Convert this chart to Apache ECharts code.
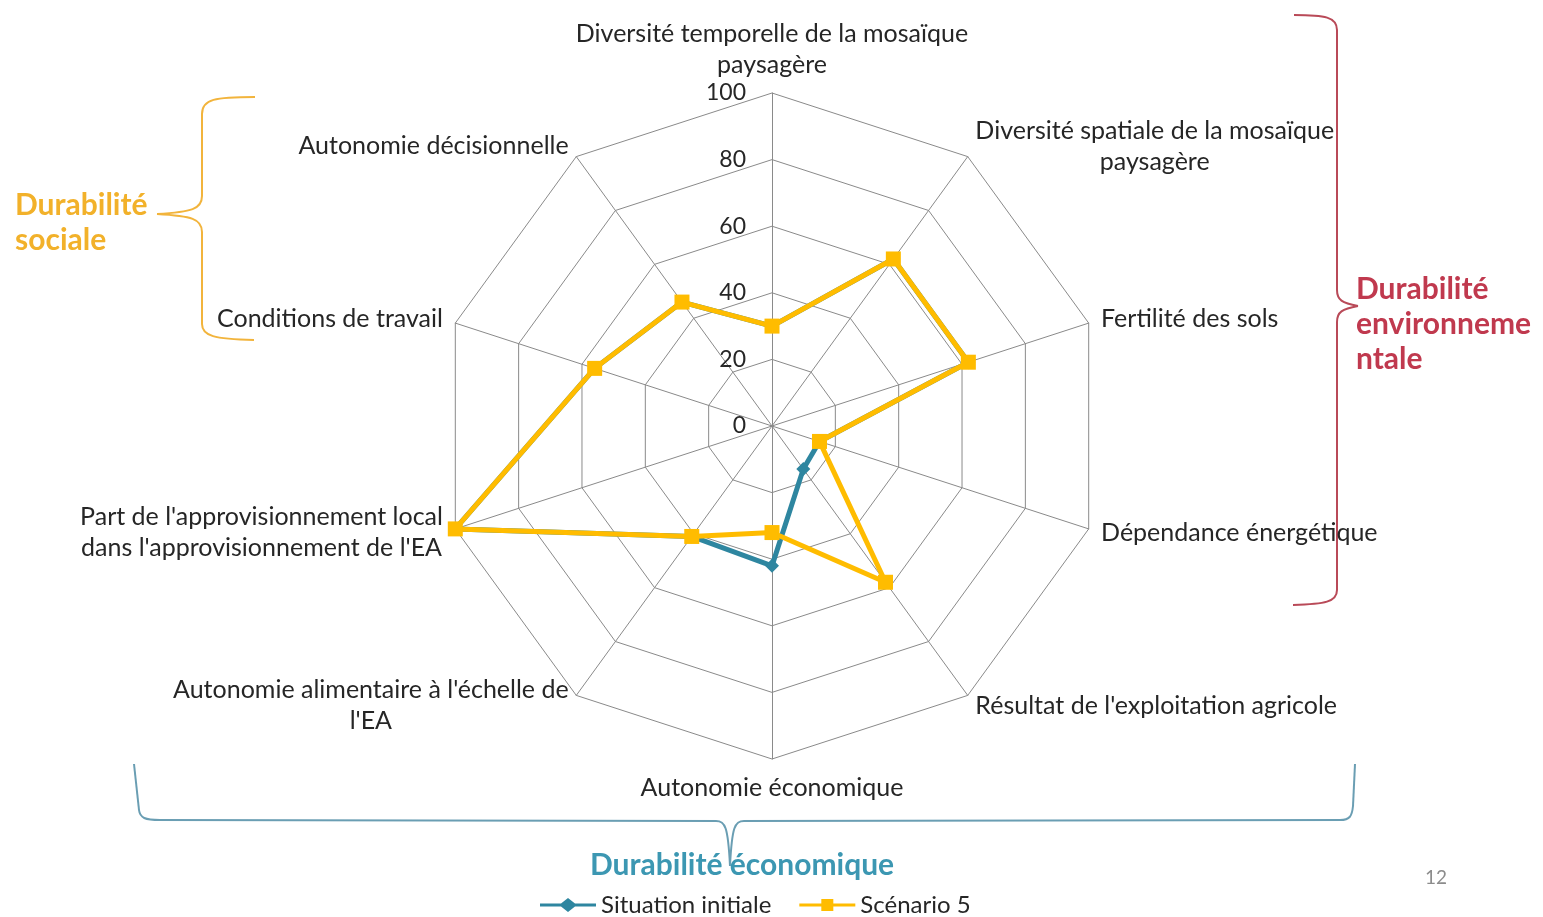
<!DOCTYPE html>
<html>
<head>
<meta charset="utf-8">
<script src="https://cdn.jsdelivr.net/npm/echarts@6/dist/echarts.min.js"></script>
<style>
html,body{margin:0;padding:0;background:#fff;}
#main{width:1543px;height:917px;}
</style>
</head>
<body>
<div id="main"></div>
<script>
// Indicators, listed clockwise starting from the top axis
const categories = [
  'Diversité temporelle de la mosaïque\npaysagère',
  'Diversité spatiale de la mosaïque\npaysagère',
  'Fertilité des sols',
  'Dépendance énergétique',
  "Résultat de l'exploitation agricole",
  'Autonomie économique',
  "Autonomie alimentaire à l'échelle de\nl'EA",
  "Part de l'approvisionnement local\ndans l'approvisionnement de l'EA",
  'Conditions de travail',
  'Autonomie décisionnelle'
];
const seriesNames = ['Situation initiale', 'Scénario 5'];
const situationInitiale = [30, 62, 62, 15, 16, 42, 41, 100, 56, 46];
const scenario5 = [30, 62, 62, 15, 58, 32, 41, 100, 56, 46];
const axisMin = 0;
const axisMax = 100;
const axisSplits = 5;

const FONT = 'Lato';
const TEXT = '#262626';
const TEAL = '#2E86A0';
const GOLD = '#FFBC00';

// ECharts places indicators counter-clockwise: reorder to keep the clockwise layout
function toCcw(arr) { return [arr[0]].concat(arr.slice(1).reverse()); }

const indicator = toCcw(categories).map(function (n, i) {
  const ind = { name: n, min: axisMin, max: axisMax };
  if (i === 0) ind.axisLabel = { show: true };
  return ind;
});

// decorative brace built from line / bezier segments
function brace(d, color) {
  const t = d.trim().split(/\s+/);
  const children = [];
  let i = 0, cx = 0, cy = 0;
  while (i < t.length) {
    const c = t[i++];
    if (c === 'M') { cx = +t[i++]; cy = +t[i++]; }
    else if (c === 'L') {
      const x = +t[i++], y = +t[i++];
      children.push({ type: 'line', shape: { x1: cx, y1: cy, x2: x, y2: y }, style: { stroke: color, lineWidth: 2 } });
      cx = x; cy = y;
    } else if (c === 'C') {
      const a = +t[i++], b = +t[i++], e = +t[i++], f = +t[i++], x = +t[i++], y = +t[i++];
      children.push({ type: 'bezierCurve', shape: { x1: cx, y1: cy, cpx1: a, cpy1: b, cpx2: e, cpy2: f, x2: x, y2: y }, style: { stroke: color, lineWidth: 2, fill: null } });
      cx = x; cy = y;
    }
  }
  return { type: 'group', children: children };
}

// legend icons: line with a marker in the middle
const ICON_DIAMOND = 'path://M0 5.5 H21 L28 0 L35 5.5 H56 V8.5 H35 L28 14 L21 8.5 H0 Z';
const ICON_SQUARE = 'path://M0 5.5 H22 V1 H34 V5.5 H56 V8.5 H34 V13 H22 V8.5 H0 Z';

const chart = echarts.init(document.getElementById('main'), null, { renderer: 'canvas' });

const option = {
  backgroundColor: '#ffffff',
  animation: false,
  textStyle: { fontFamily: FONT },
  legend: {
    data: [
      { name: seriesNames[0], icon: ICON_DIAMOND, itemStyle: { color: TEAL } },
      { name: seriesNames[1], icon: ICON_SQUARE, itemStyle: { color: GOLD } }
    ],
    bottom: -5,
    left: 535,
    itemWidth: 56,
    itemHeight: 14,
    itemGap: 28,
    textStyle: { fontFamily: FONT, fontSize: 24, color: TEXT }
  },
  radar: {
    center: [772, 426],
    radius: 333,
    startAngle: 90,
    shape: 'polygon',
    splitNumber: axisSplits,
    indicator: indicator,
    axisName: {
      color: TEXT,
      fontFamily: FONT,
      fontSize: 25,
      formatter: function (name) {
        return name.split('\n').map(function (l) { return '{c|' + l + '}'; }).join('\n');
      },
      rich: {
        c: { align: 'center', fontFamily: FONT, fontSize: 25, lineHeight: 31, color: TEXT }
      }
    },
    nameGap: 13,
    axisLine: { lineStyle: { color: '#8a8a8a', width: 1 } },
    splitLine: { lineStyle: { color: '#8a8a8a', width: 1 } },
    splitArea: { show: false },
    axisTick: { show: false },
    axisLabel: {
      show: false,
      color: TEXT,
      fontFamily: FONT,
      fontSize: 23,
      margin: 26
    }
  },
  series: [{
    type: 'radar',
    data: [
      {
        name: seriesNames[0],
        value: toCcw(situationInitiale),
        symbol: 'diamond',
        symbolSize: 14,
        lineStyle: { color: TEAL, width: 5 },
        itemStyle: { color: TEAL }
      },
      {
        name: seriesNames[1],
        value: toCcw(scenario5),
        symbol: 'rect',
        symbolSize: 15,
        lineStyle: { color: GOLD, width: 5 },
        itemStyle: { color: GOLD }
      }
    ]
  }],
  graphic: [
    brace('M 255 97 C 215 97 202 99 202 114 L 202 196 C 202 209 192 212 157 214 C 192 216 202 219 202 232 L 202 324 C 202 336 214 339 254 340', '#F2B43C'),
    brace('M 1294 15 C 1325 15 1337 17 1337 30 L 1337 290 C 1337 300 1342 303 1358 306 C 1342 309 1337 312 1337 322 L 1337 590 C 1337 602 1325 604 1293 605', '#B94A58'),
    brace('M 134 764 L 139 810 C 140 818 145 820 160 820 L 716 821 C 725 821 728 826 730 866 C 732 826 735 821 744 821 L 1340 820 C 1350 820 1352 816 1353 806 L 1355 764', '#6A9EB3'),
    { type: 'text', left: 15, top: 188,
      style: { text: 'Durabilité\nsociale', font: 'bold 30px ' + FONT, lineHeight: 35, fill: '#F2B12A' } },
    { type: 'text', left: 1356, top: 272,
      style: { text: 'Durabilité\nenvironneme\nntale', font: 'bold 30px ' + FONT, lineHeight: 35, fill: '#C0394E' } },
    { type: 'text', left: 590, top: 850,
      style: { text: 'Durabilité économique', font: 'bold 30px ' + FONT, fill: '#3C97B2' } },
    { type: 'text', left: 1425, top: 868,
      style: { text: '12', font: '19px ' + FONT, fill: '#8c8c8c' } }
  ]
};
chart.setOption(option);
</script>
</body>
</html>
